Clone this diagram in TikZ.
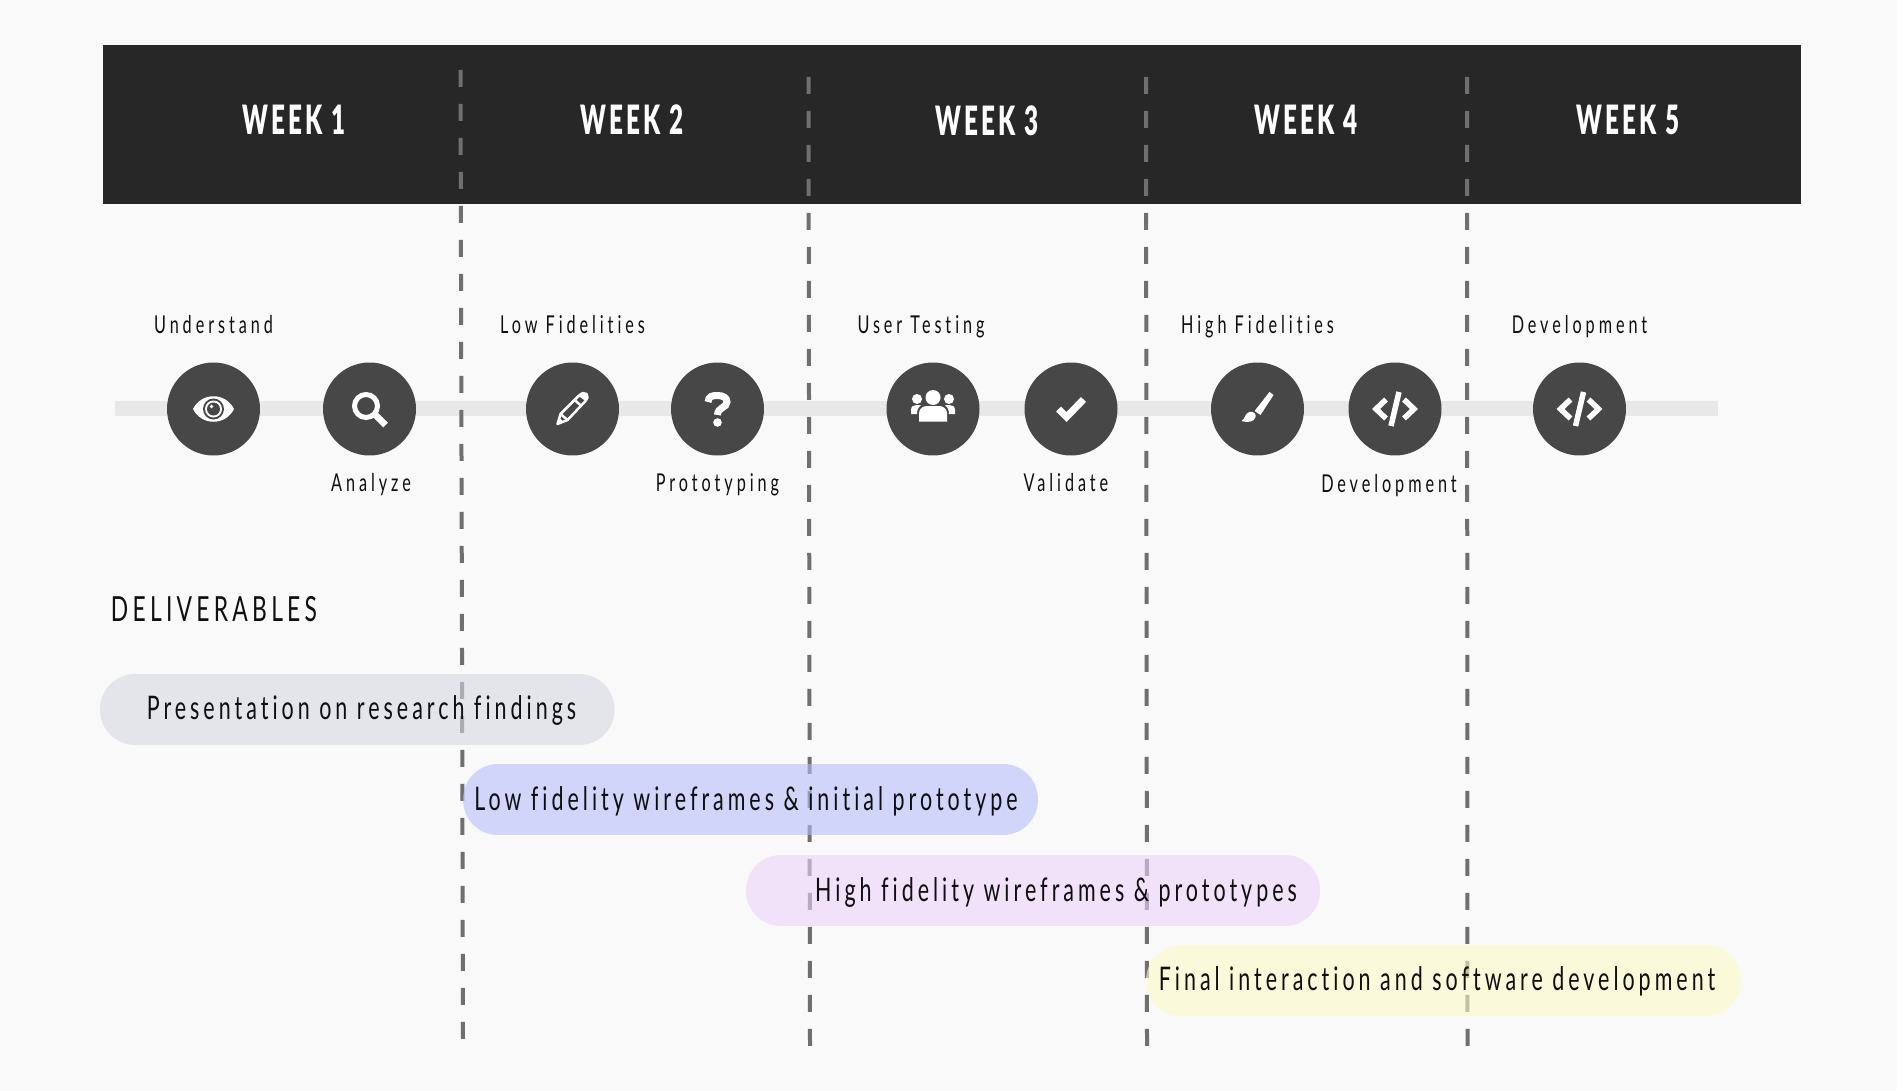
\documentclass[tikz,border=0pt]{standalone}
\usepackage{fontspec}
\usepackage{xcolor}
\usetikzlibrary{positioning}
\newfontfamily\dinfont[FakeStretch=0.66,LetterSpace=16,Ligatures=NoCommon]{Lato}
\newfontfamily\dinpill[FakeStretch=0.66,LetterSpace=12.3,Ligatures=NoCommon]{Lato}
\newfontfamily\dinhead[FakeStretch=0.6,LetterSpace=7.7]{Lato Black}
\definecolor{pagegrey}{RGB}{249,249,249}
\definecolor{bandblack}{RGB}{39,39,39}
\definecolor{trackgrey}{RGB}{232,232,232}
\definecolor{dashgrey}{RGB}{111,111,111}
\definecolor{dotgrey}{RGB}{71,71,71}
\definecolor{inkblack}{RGB}{15,15,15}
\definecolor{pillslate}{RGB}{214,214,226}
\definecolor{pillblue}{RGB}{181,189,250}
\definecolor{pillpink}{RGB}{237,209,250}
\definecolor{pillcream}{RGB}{252,249,197}

\begin{document}
\begin{tikzpicture}[
        x=0.02cm, y=-0.02cm,
        weekhead/.style={font=\dinhead\fontsize{23}{27}\selectfont, text=white, inner sep=0},
        weekdash/.style={draw=dashgrey, line width=0.08cm, dash pattern=on 0.34cm off 0.34cm},
        icondot/.style={circle, fill=dotgrey, minimum size=1.86cm, inner sep=0},
        steptext/.style={font=\dinfont\fontsize{14}{17}\selectfont, text=inkblack, inner sep=0, text height=0.34cm, text depth=0.1cm},
        pill/.style={rounded corners=0.7cm, fill opacity=0.6, inner sep=0, minimum height=1.42cm},
        pilltext/.style={font=\dinpill\fontsize{18.5}{22}\selectfont, text=inkblack, inner sep=0},
        iconline/.style={draw=white, line width=0.11cm, line cap=butt}
    ]
    \useasboundingbox (0,0) rectangle (1897,1091);
    \fill[pagegrey] (0,0) rectangle (1897,1091);

    % header band
    \node[fill=bandblack, minimum width=33.96cm, minimum height=3.18cm, inner sep=0] (band) at (952,124.5) {};
    \node[weekhead] (weekone) at (294,120) {WEEK 1};
    \node[weekhead] (weektwo) at (632,120) {WEEK 2};
    \node[weekhead] (weekthree) at (987,121) {WEEK 3};
    \node[weekhead] (weekfour) at (1306,120) {WEEK 4};
    \node[weekhead] (weekfive) at (1628,120) {WEEK 5};

    % track behind the circles
    \coordinate (trackstart) at (115,408.5);
    \coordinate (trackend) at (1718,408.5);
    \draw[trackgrey, line width=0.3cm] (trackstart) -- (trackend);

    % week dividers
    \coordinate (dashonetop) at (460.5,70);
    \coordinate (dashonebot) at (463,1040);
    \coordinate (dashtwotop) at (808.5,77);
    \coordinate (dashtwobot) at (810,1046);
    \coordinate (dashthreetop) at (1146,77);
    \coordinate (dashthreebot) at (1147,1046);
    \coordinate (dashfourtop) at (1467,77);
    \coordinate (dashfourbot) at (1467.5,1046);
    \draw[weekdash] (dashonetop) -- (dashonebot);
    \draw[weekdash] (dashtwotop) -- (dashtwobot);
    \draw[weekdash] (dashthreetop) -- (dashthreebot);
    \draw[weekdash] (dashfourtop) -- (dashfourbot);

    % circles
    \node[icondot] (eye) at (213.5,409) {};
    \node[icondot] (lens) at (369.5,409) {};
    \node[icondot] (pencil) at (572.5,409) {};
    \node[icondot] (query) at (717.5,409) {};
    \node[icondot] (users) at (933,409) {};
    \node[icondot] (tick) at (1071,409) {};
    \node[icondot] (brush) at (1257.5,409) {};
    \node[icondot] (codefour) at (1395,409) {};
    \node[icondot] (codefive) at (1579.5,409) {};

    % step labels
    \node[steptext, above=0.46cm of eye] (understand) {Understand};
    \node[steptext, below=0.36cm of lens, xshift=0.03cm] (analyze) {Analyze};
    \node[steptext, above=0.46cm of pencil] (lowfid) {Low Fidelities};
    \node[steptext, below=0.36cm of query] (prototyping) {Prototyping};
    \node[steptext, above=0.46cm of users, xshift=-0.24cm] (usertest) {User Testing};
    \node[steptext, below=0.36cm of tick, xshift=-0.1cm] (validate) {Validate};
    \node[steptext, above=0.46cm of brush] (highfid) {High Fidelities};
    \node[steptext, below=0.38cm of codefour, xshift=-0.12cm] (devlow) {Development};
    \node[steptext, above=0.46cm of codefive] (devhigh) {Development};

    % icons
    \begin{scope}[shift={(eye)}]
        \fill[white] (-20.5,0) .. controls (-12,-17) and (12,-17) .. (20.5,0) .. controls (12,17) and (-12,17) .. (-20.5,0) -- cycle;
        \fill[dotgrey] (0,0) circle (10.5);
        \fill[white] (0,0) circle (8.5);
        \fill[dotgrey] (0,0) circle (6.5);
        \fill[white] (-2,-2.5) circle (1.8);
    \end{scope}
    \begin{scope}[shift={(lens)}]
        \draw[white, line width=0.1cm] (-3.5,-3) circle (11.5);
        \draw[white, line width=0.13cm] (5,5) -- (16,16);
    \end{scope}
    \begin{scope}[shift={(pencil)}]
        \draw[white, line width=0.05cm, line join=round] (-15,15) -- (-12,5) -- (6,-13) .. controls (9,-16) and (12,-17) .. (14,-15) .. controls (16,-13) and (15,-10) .. (13,-8) -- (-5,11) -- cycle;
        \draw[white, line width=0.05cm] (-12,5) -- (-5,11) (2,-9) -- (9,-3);
        \fill[white] (-15,15) -- (-13,9) -- (-9,13) -- cycle;
        \fill[white] (6,-13) .. controls (9,-16) and (12,-17) .. (14,-15) .. controls (16,-13) and (15,-10) .. (13,-8) -- cycle;
    \end{scope}
    \begin{scope}[shift={(query)}]
        \draw[white, line width=0.14cm] (-9.5,-7) .. controls (-9,-13) and (-5,-13.5) .. (0,-13.5) .. controls (6,-13.5) and (9.5,-11) .. (9.5,-7) .. controls (9.5,-1) and (0,-2) .. (0,6);
        \fill[white] (0,13.5) circle (4.3);
    \end{scope}
    \begin{scope}[shift={(users)}]
        \fill[white] (0,-11.5) circle (7.5);
        \fill[white] (-16,-10) circle (5);
        \fill[white] (16,-10) circle (5);
        \fill[white] (-14,12.5) -- (-14,4) .. controls (-14,-1) and (-9,-3) .. (-6,-3) -- (6,-3) .. controls (9,-3) and (14,-1) .. (14,4) -- (14,12.5) -- cycle;
        \fill[white] (-22,5) -- (-22,1) .. controls (-22,-3) and (-19,-4) .. (-16,-4) -- (-12,-4) .. controls (-15,-1) and (-16,1) .. (-16,5) -- cycle;
        \fill[white] (22,5) -- (22,1) .. controls (22,-3) and (19,-4) .. (16,-4) -- (12,-4) .. controls (15,-1) and (16,1) .. (16,5) -- cycle;
    \end{scope}
    \begin{scope}[shift={(tick)}]
        \draw[white, line width=0.14cm] (-12.5,0) -- (-4.5,8) -- (12.5,-9.5);
    \end{scope}
    \begin{scope}[shift={(brush)}]
        \fill[white] (12,-17) -- (16,-14) -- (3,6) -- (-3,2) -- cycle;
        \fill[white] (-16,12) .. controls (-12,10) and (-13,4) .. (-8,3) .. controls (-4,2) and (-1,5) .. (-2,8) .. controls (-3,13) and (-10,14) .. (-16,12) -- cycle;
    \end{scope}
    \foreach \codedot in {codefour,codefive} {
        \begin{scope}[shift={(\codedot)}]
            \draw[iconline] (-9,-9.5) -- (-19,0) -- (-9,9.5);
            \draw[iconline] (9,-9.5) -- (19,0) -- (9,9.5);
            \draw[iconline] (4,-17) -- (-4,17);
        \end{scope}
    }

    % deliverables
    \node[font=\dinpill\fontsize{19.7}{23}\selectfont, text=inkblack, inner sep=0] (delivhead) at (214,609) {DELIVERABLES};
    \node[pill, fill=pillslate, minimum width=10.29cm] (pillone) at (357.25,709.5) {};
    \node[pill, fill=pillblue, minimum width=11.5cm] (pilltwo) at (750.5,799.5) {};
    \node[pill, fill=pillpink, minimum width=11.48cm] (pillthree) at (1033,890.5) {};
    \node[pill, fill=pillcream, minimum width=11.9cm] (pillfour) at (1443.5,980.5) {};
    \node[pilltext] (textone) at (361.5,710) {Presentation on research findings};
    \node[pilltext] (texttwo) at (746,801.5) {Low fidelity wireframes \& initial prototype};
    \node[pilltext] (textthree) at (1056,892) {High fidelity wireframes \& prototypes};
    \node[pilltext] (textfour) at (1437,981.5) {Final interaction and software development};
\end{tikzpicture}
\end{document}
